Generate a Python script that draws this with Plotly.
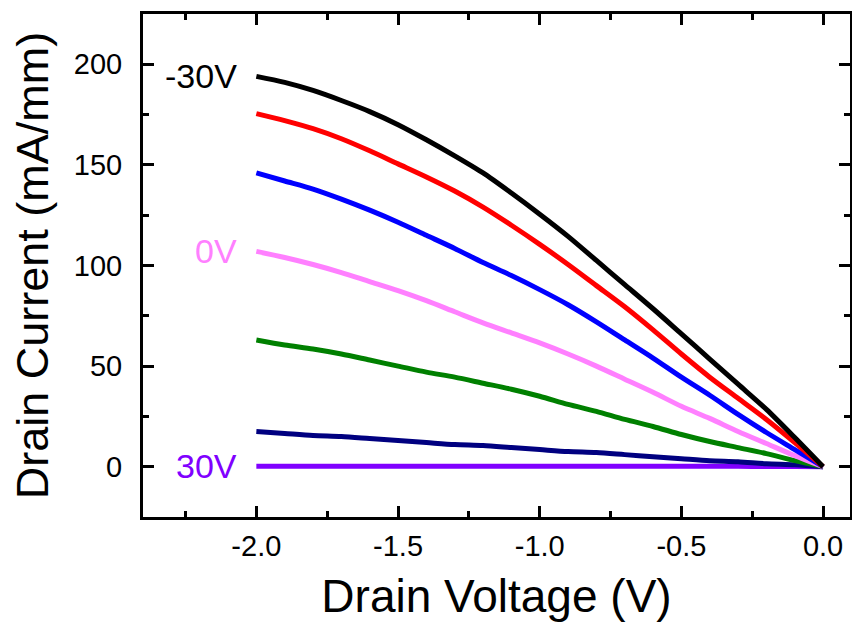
import plotly.graph_objects as go

drain_voltage = [-2.0, -1.9, -1.8, -1.7, -1.6, -1.5, -1.4, -1.3, -1.2, -1.1, -1.0,
                 -0.9, -0.8, -0.7, -0.6, -0.5, -0.4, -0.3, -0.2, -0.1, 0.0]

id_m30 = [194, 191, 187, 182, 176.5, 170, 162.5, 154.5, 146, 136, 125.5,
          114.5, 102.5, 90.5, 78.5, 66, 53.5, 41, 28.5, 14.5, 0]
id_m20 = [175.5, 172, 168, 163, 157, 150.5, 144, 137, 129, 120, 110.5,
          100.5, 90, 79.5, 68, 56, 44.5, 34, 23.5, 12, 0]
id_m10 = [146, 142, 138, 133, 127.5, 121.5, 115, 108.5, 101.5, 95, 88,
          80.5, 72, 63, 54, 44.5, 35.5, 26, 17, 8.5, 0]
id_0 = [107, 104, 100.5, 96.5, 92, 87.5, 82.5, 77, 71.5, 66.5, 61.5,
        56, 50, 43.5, 37, 30, 24, 17.5, 11.5, 5.5, 0]
id_p10 = [63, 60.5, 58.5, 56, 53, 50, 47, 44.5, 41.5, 38.5, 35,
          31, 27.5, 23.5, 20, 16, 12.5, 9.5, 6.5, 3, 0]
id_p20 = [17.5, 16.5, 15.5, 15, 14, 13, 12, 11, 10.5, 9.5, 8.5,
          7.5, 7, 6, 5, 4, 3, 2.5, 1.5, 1, 0]
id_p30 = [0.2, 0.2, 0.2, 0.2, 0.2, 0.2, 0.2, 0.2, 0.2, 0.2, 0.2,
          0.2, 0.2, 0.2, 0.2, 0.2, 0.2, 0.2, 0.1, 0.1, 0]

x_tick_vals = [-2.0, -1.5, -1.0, -0.5, 0.0]
x_tick_text = ["-2.0", "-1.5", "-1.0", "-0.5", "0.0"]
y_tick_vals = [0, 50, 100, 150, 200]
y_tick_text = ["0", "50", "100", "150", "200"]

series = [
    ("-30V", id_m30, "#000000"),
    ("-20V", id_m20, "#FF0000"),
    ("-10V", id_m10, "#0000FF"),
    ("0V", id_0, "#FF80FF"),
    ("10V", id_p10, "#008000"),
    ("20V", id_p20, "#000080"),
    ("30V", id_p30, "#8000FF"),
]

labels = [("-30V", id_m30[0], "#000000"), ("0V", id_0[0], "#FF80FF"), ("30V", id_p30[0], "#8000FF")]

FONT = "Liberation Sans, Arial"

fig = go.Figure()
for name, ys, col in reversed(series):
    fig.add_trace(go.Scatter(x=drain_voltage, y=ys, mode="lines", name=name,
                             line=dict(color=col, width=5, shape="spline", smoothing=0.8),
                             showlegend=False))

for txt, yv, col in labels:
    fig.add_annotation(x=drain_voltage[0], y=yv, text=txt, showarrow=False,
                       xanchor="right", yanchor="middle", xshift=-17,
                       font=dict(size=34, color=col, family=FONT))

axis_common = dict(showline=True, linecolor="black", linewidth=3, mirror="ticks",
                   ticks="inside", ticklen=11, tickwidth=3, tickcolor="black",
                   showgrid=False, zeroline=False, automargin=False,
                   tickfont=dict(size=29, color="black", family=FONT))

fig.update_xaxes(range=[-2.40, 0.095], tickmode="array", tickvals=x_tick_vals, ticktext=x_tick_text,
                 minor=dict(dtick=0.25, tick0=0, ticks="inside", ticklen=6, tickwidth=3, tickcolor="black"),
                 title=dict(text="Drain Voltage (V)", standoff=20,
                            font=dict(size=46, color="black", family=FONT)),
                 ticklabelstandoff=1,
                 **axis_common)
fig.update_yaxes(range=[-25, 225], tickmode="array", tickvals=y_tick_vals, ticktext=y_tick_text,
                 minor=dict(dtick=25, tick0=0, ticks="inside", ticklen=6, tickwidth=3, tickcolor="black"),
                 title=dict(text="Drain Current (mA/mm)", standoff=12,
                            font=dict(size=45, color="black", family=FONT)),
                 ticklabelstandoff=12,
                 **axis_common)

fig.update_layout(width=852, height=627, margin=dict(l=143, r=2, t=14, b=110),
                  plot_bgcolor="white", paper_bgcolor="white",
                  font=dict(family=FONT, color="black"))

fig.write_html("out.html", config={"displayModeBar": False},
               post_script="document.body.style.margin='0';document.body.style.padding='0';")
